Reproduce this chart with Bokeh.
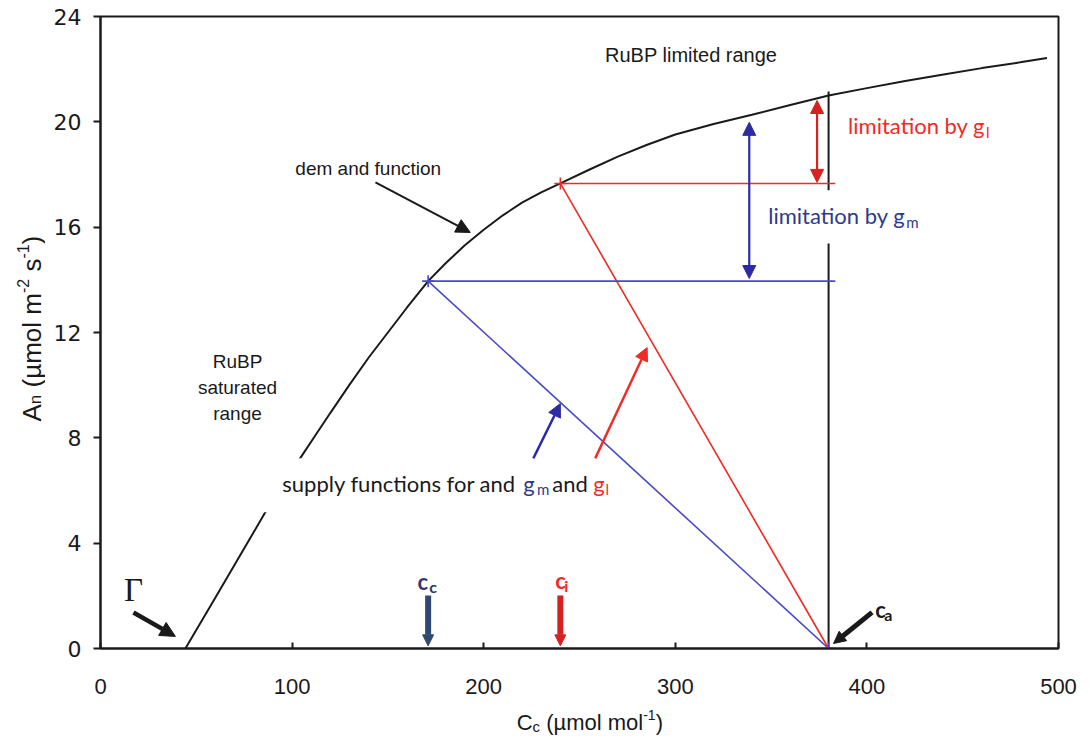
import numpy as np
from bokeh.plotting import figure
from bokeh.layouts import row, column
from bokeh.models import Label, Arrow, NormalHead, Range1d, FixedTicker
from bokeh.embed import file_html
from bokeh.resources import INLINE

# ---- data -------------------------------------------------------------
# demand function: net assimilation A_n against chloroplast CO2 (C_c)
cc_curve = [44.3, 50, 60, 70, 80, 86, 104, 112, 120, 130, 140, 150, 160, 171,
            180, 190, 200, 210, 220, 230, 240, 255, 270, 285, 300, 320, 340,
            360, 380, 400, 420, 440, 460, 480, 494]
an_curve = [0.0, 0.7, 1.94, 3.18, 4.42, 5.17, 7.2, 8.08, 8.95, 10.02, 11.05,
            12.0, 12.95, 13.95, 14.62, 15.3, 15.9, 16.45, 16.93, 17.32, 17.66,
            18.18, 18.68, 19.12, 19.52, 19.92, 20.27, 20.64, 21.0, 21.28, 21.55,
            21.8, 22.04, 22.26, 22.42]

ca = 380.0      # ambient CO2
ci = 240.0      # intercellular CO2
cc = 171.0      # chloroplast CO2
a_ci = 17.66    # A_n where the g_l supply line meets the demand curve
a_cc = 13.95    # A_n where the g_m supply line meets the demand curve
a_ca_top = 21.15  # top of the c_a marker line

x_ticks = [0, 100, 200, 300, 400, 500]
y_ticks = [0, 4, 8, 12, 16, 20, 24]

# ---- colours / fonts ----------------------------------------------------
BLACK = "#1a1a1a"
BLUE = "#4a4ac6"
BLUE_DARK = "#2b2ba6"
BLUE_TXT = "#2e3a8c"
RED = "#ee2b25"
RED_DARK = "#d42222"
CC_TXT = "#30386e"
CC_ARROW = "#2f4a6e"
ARIAL = "Liberation Sans"
CALIBRI = "Lato"
NB = "\u00a0"   # non-breaking space, kept at the start of a text piece

# Arial advance widths (per 1000 em) used to lay out the axis titles
AW = {" ": 278, NB: 278, "(": 333, ")": 333, "-": 333, "A": 667, "C": 722,
      "c": 500, "l": 222, "m": 833, "n": 556, "o": 556, "s": 500,
      "\u00b5": 576, "1": 556, "2": 556}


def text_w(s, size):
    return sum(AW.get(ch, 556) for ch in s) / 1000.0 * size


# ---- main plot ------------------------------------------------------------
p = figure(width=1045, height=704, x_range=Range1d(0, 500), y_range=Range1d(0, 24),
           output_backend="svg", toolbar_location=None,
           min_border_left=55, min_border_right=32, min_border_top=16,
           min_border_bottom=56)
p.xgrid.visible = False
p.ygrid.visible = False
p.background_fill_color = "white"
p.border_fill_color = "white"
p.outline_line_color = BLACK
p.outline_line_width = 2
p.outline_line_alpha = 1.0

p.xaxis.ticker = FixedTicker(ticks=x_ticks)
p.yaxis.ticker = FixedTicker(ticks=y_ticks)
p.axis.axis_line_color = BLACK
p.axis.axis_line_width = 2
p.axis.major_tick_line_color = BLACK
p.axis.major_tick_line_width = 2
p.axis.minor_tick_line_color = None
p.xaxis.major_tick_in = 6
p.xaxis.major_tick_out = 0
p.yaxis.major_tick_in = 0
p.yaxis.major_tick_out = 7
p.xaxis.major_label_standoff = 30
p.yaxis.major_label_standoff = 12
p.xaxis.major_label_text_font = ARIAL
p.xaxis.major_label_text_font_size = "22px"
p.yaxis.major_label_text_font = "DejaVu Sans"
p.yaxis.major_label_text_font_size = "22px"
p.axis.major_label_text_color = BLACK

# demand curve and c_a line
p.line(cc_curve, an_curve, line_color=BLACK, line_width=2)
p.line([ca, ca], [0, a_ca_top], line_color=BLACK, line_width=2)

# white text boxes that mask the lines behind two of the captions
p.quad(left=[81, 344], right=[268, 433], bottom=[5.17, 15.38], top=[7.22, 17.4],
       fill_color="white", line_color=None)

# supply functions and limitation levels
p.line([cc, ca], [a_cc, 0], line_color=BLUE, line_width=1.6)
p.line([ci, ca], [a_ci, 0], line_color=RED, line_width=1.6)
p.line([cc, ca + 3.5], [a_cc, a_cc], line_color=BLUE, line_width=1.6)
p.line([ci, ca + 3.5], [a_ci, a_ci], line_color=RED, line_width=1.6)
p.scatter([cc, ca], [a_cc, 0], marker="cross", size=12, line_color=BLUE, line_width=1.6)
p.scatter([ci], [a_ci], marker="cross", size=12, line_color=RED, line_width=1.6)


def arrow(x0, y0, x1, y1, color, width, head, both=False):
    end = NormalHead(size=head, fill_color=color, line_color=color, line_width=1)
    start = NormalHead(size=head, fill_color=color, line_color=color, line_width=1) if both else None
    p.add_layout(Arrow(x_start=x0, y_start=y0, x_end=x1, y_end=y1, end=end, start=start,
                       line_color=color, line_width=width))


# limitation double arrows
arrow(374, 20.81, 374, a_ci + 0.04, RED_DARK, 2.2, 13, both=True)
arrow(338.6, 19.98, 338.6, a_cc + 0.1, BLUE_DARK, 2.2, 13, both=True)
# pointers
arrow(143.5, 17.7, 193.0, 15.8, BLACK, 2, 14)
arrow(17.2, 1.37, 39.1, 0.46, BLACK, 4.5, 15)
arrow(225.9, 7.22, 240.0, 9.3, BLUE_DARK, 2.4, 13)
arrow(258.2, 7.22, 285.3, 11.43, RED, 2.4, 13)
arrow(402.7, 1.37, 382.6, 0.19, BLACK, 5, 12)
arrow(cc, 2.01, cc, 0.1, CC_ARROW, 6, 11)
arrow(ci, 2.01, ci, 0.1, RED_DARK, 6, 11)


def label(fig, x, y, text, size, color=BLACK, font=ARIAL, align="left", xo=0, yo=0,
          angle=0.0, style="normal"):
    fig.add_layout(Label(x=x, y=y, text=text, text_font=font, text_font_size=f"{size}px",
                         text_color=color, text_align=align, text_baseline="middle",
                         x_offset=xo, y_offset=yo, angle=angle, text_font_style=style))


# plain captions
label(p, 308.3, 22.52, "RuBP limited range", 20, align="center")
label(p, 101.7, 18.23, "dem and function", 19)
label(p, 71.5, 10.9, "RuBP", 19, align="center")
label(p, 71.5, 9.91, "saturated", 19, align="center")
label(p, 71.5, 8.93, "range", 19, align="center")
label(p, 17.2, 2.24, "\u0393", 33, font="Liberation Serif", align="center")

# captions with sub-scripts (each piece anchored at its own position)
label(p, 390.2, 19.86, "limitation by g", 22, RED, CALIBRI)
label(p, 462.2, 19.86, "l", 15, RED, CALIBRI, yo=-6)
label(p, 348.5, 16.44, "limitation by g", 22, BLUE_TXT, CALIBRI)
label(p, 420.5, 16.44, "m", 15, BLUE_TXT, CALIBRI, yo=-6)
label(p, 94.9, 6.27, "supply functions for and", 22, BLACK, CALIBRI)
label(p, 220.7, 6.27, "g", 22, BLUE_TXT, CALIBRI)
label(p, 227.8, 6.27, "m", 15, BLUE_TXT, CALIBRI, yo=-6)
label(p, 235.8, 6.27, "and", 22, BLACK, CALIBRI)
label(p, 257.2, 6.27, "g", 22, RED, CALIBRI)
label(p, 263.6, 6.27, "l", 15, RED, CALIBRI, yo=-6)
label(p, 165.4, 2.54, "c", 22, CC_TXT, CALIBRI, style="bold")
label(p, 171.6, 2.54, "c", 16, CC_TXT, CALIBRI, yo=-5, style="bold")
label(p, 237.3, 2.58, "c", 22, RED, CALIBRI, style="bold")
label(p, 242.0, 2.58, "i", 16, RED, CALIBRI, yo=-5, style="bold")
label(p, 404.3, 1.48, "c", 22, BLACK, CALIBRI, style="bold")
label(p, 409.0, 1.48, "a", 16, BLACK, CALIBRI, yo=-5, style="bold")


# ---- axis titles (own strips so sub/superscripts can be set) ---------------
def strip(w, h, x0, x1, y0, y1):
    f = figure(width=w, height=h, x_range=Range1d(x0, x1), y_range=Range1d(y0, y1),
               output_backend="svg", toolbar_location=None, min_border=0,
               x_axis_location=None, y_axis_location=None)
    f.xgrid.visible = False
    f.ygrid.visible = False
    f.outline_line_color = None
    return f


def title_run(fig, x, y, pieces, angle=0.0):
    adv = 0.0
    for text, size, shift in pieces:
        if angle == 0.0:
            label(fig, x, y, text, size, xo=adv, yo=shift)
        else:
            label(fig, x, y, text, size, xo=-shift, yo=adv, angle=angle)
        adv += text_w(text, size)


# strip coordinates follow page pixels (y downwards)
ylab = strip(45, 742, 0, 45, 742, 0)
xlab = strip(1045, 38, 45, 1090, 742, 704)

title_run(xlab, 499, 722, [("C", 22, 0), ("c", 15, -4), (NB + "(\u00b5mol" + NB + "mol", 22, 0),
                           ("-1", 14, 8), (")", 22, 0)])
title_run(ylab, 31, 421, [("A", 26, 0), ("n", 17, -4), (NB + "(\u00b5mol" + NB + "m", 26, 0),
                          ("-2", 16, 9), (NB + "s", 26, 0), ("-1", 16, 9), (")", 26, 0)],
          angle=np.pi / 2)

page = row(ylab, column(p, xlab))
open("out.html", "w").write(file_html(page, INLINE))
